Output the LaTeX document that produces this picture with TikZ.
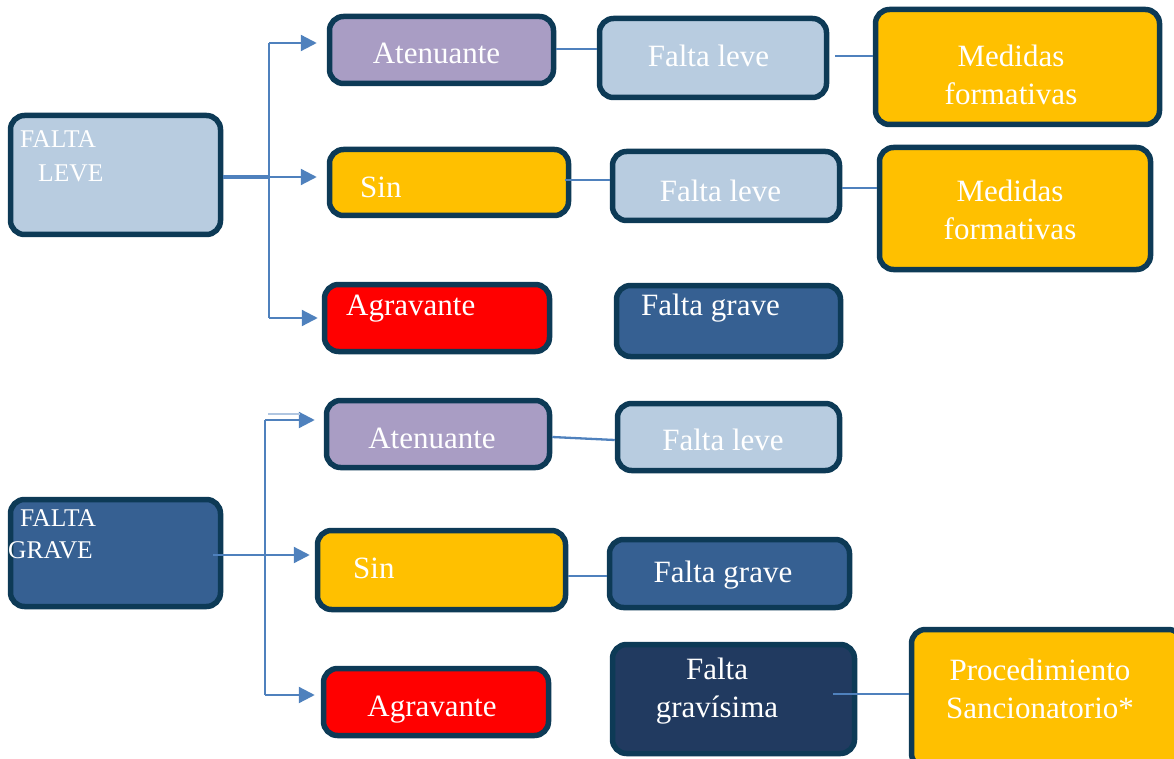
\documentclass[tikz,border=0pt]{standalone}
\usepackage{fontspec}
\setmainfont{Liberation Serif}
\usetikzlibrary{arrows.meta}
\definecolor{bord}{RGB}{13,58,86}
\definecolor{lblue}{RGB}{184,204,224}
\definecolor{lav}{RGB}{169,157,196}
\definecolor{gold}{RGB}{255,192,0}
\definecolor{redf}{RGB}{255,0,0}
\definecolor{mblue}{RGB}{54,96,146}
\definecolor{navy}{RGB}{33,58,96}
\definecolor{conn}{RGB}{79,129,189}
\begin{document}
\begin{tikzpicture}[x=1pt,y=-1pt,
  box/.style={draw=bord, line width=5.5pt, rounded corners=14pt, inner sep=0pt},
  txt/.style={text=white, font=\fontsize{31}{38}\selectfont, inner sep=0pt, align=center},
  smalltxt/.style={text=white, font=\fontsize{25.5}{30}\selectfont, inner sep=0pt},
  link/.style={draw=conn, line width=2.3pt},
  arr/.style={link, -{Triangle[length=16pt,width=16pt]}}]
\useasboundingbox (0,0) rectangle (1174,759);
% boxes
\node[box, fill=lblue, minimum width=210pt, minimum height=119pt] (fleve) at (115.5,175) {};
\node[box, fill=lav, minimum width=224pt, minimum height=67pt] (at1) at (441.5,50) {};
\node[box, fill=lblue, minimum width=227pt, minimum height=79pt] (fl1) at (713,58) {};
\node[box, fill=gold, minimum width=284pt, minimum height=115pt] (mf1) at (1017.5,67) {};
\node[box, fill=gold, minimum width=239pt, minimum height=66pt] (sin1) at (449,182.5) {};
\node[box, fill=lblue, minimum width=227pt, minimum height=69pt] (fl2) at (726,186) {};
\node[box, fill=gold, minimum width=271pt, minimum height=122pt] (mf2) at (1015,208.5) {};
\node[box, fill=redf, minimum width=225pt, minimum height=67pt] (ag1) at (437,318) {};
\node[box, fill=mblue, minimum width=224pt, minimum height=71pt] (fg1) at (728.5,321) {};
\node[box, fill=lav, minimum width=223pt, minimum height=67pt] (at2) at (438,434) {};
\node[box, fill=lblue, minimum width=222pt, minimum height=67pt] (fl3) at (728.5,437) {};
\node[box, fill=mblue, minimum width=210pt, minimum height=107pt] (fgrave) at (115.5,553) {};
\node[box, fill=gold, minimum width=248pt, minimum height=79pt] (sin2) at (441.5,570) {};
\node[box, fill=mblue, minimum width=240pt, minimum height=68pt] (fg2) at (729.5,573.5) {};
\node[box, fill=redf, minimum width=225pt, minimum height=67pt] (ag2) at (436,702) {};
\node[box, fill=navy, minimum width=242pt, minimum height=109pt] (fgv) at (733.5,699) {};
\node[box, fill=gold, minimum width=271pt, minimum height=138pt] (proc) at (1047,698.5) {};
% texts
\node[smalltxt, anchor=base west] (t1a) at (20,148) {FALTA};
\node[smalltxt, anchor=base west] (t1b) at (38,182) {LEVE};
\node[txt, anchor=base] (tat1) at (436.5,64) {Atenuante};
\node[txt, anchor=base] (tfl1) at (708.5,67) {Falta leve};
\node[txt] (tmf1) at (1011,74.5) {Medidas\\formativas};
\node[txt, anchor=base west] (tsin1) at (360,198) {Sin};
\node[txt, anchor=base] (tfl2) at (720.5,202) {Falta leve};
\node[txt] (tmf2) at (1010,210) {Medidas\\formativas};
\node[txt, anchor=base west] (tag1) at (346,315) {Agravante};
\node[txt, anchor=base west] (tfg1) at (641,315) {Falta grave};
\node[txt, anchor=base] (tat2) at (432,448) {Atenuante};
\node[txt, anchor=base] (tfl3) at (723,450) {Falta leve};
\node[smalltxt, anchor=base west] (t2a) at (20,526) {FALTA};
\node[smalltxt, anchor=base west] (t2b) at (8,558) {GRAVE};
\node[txt, anchor=base west] (tsin2) at (353,578) {Sin};
\node[txt, anchor=base] (tfg2) at (723,582) {Falta grave};
\node[txt, anchor=base] (tag2) at (432,716) {Agravante};
\node[txt] (tfgv) at (717,691) {Falta\\gravísima};
\node[txt] (tproc) at (1040,689) {Procedimiento\\Sancionatorio*};
% junction coordinates
\coordinate (j1) at (269,177);
\coordinate (j1t) at (269,43);
\coordinate (j1b) at (269,318);
\coordinate (j2) at (265,555);
\coordinate (j2t) at (265,420);
\coordinate (j2b) at (265,695);
\coordinate (y49) at (0,49);
\coordinate (y56) at (0,56);
\coordinate (y180) at (0,180);
\coordinate (y188) at (0,188);
\coordinate (y437) at (0,437);
\coordinate (y440) at (0,440);
\coordinate (y576) at (0,576);
\coordinate (y694) at (0,694);
% top tree
\draw[link, line width=4pt] (fleve.east |- j1) -- (j1);
\draw[link, line width=2.5pt] (j1t) -- (j1b);
\draw[arr, shorten >=10pt] (j1t) -- (at1.west |- j1t);
\draw[arr, shorten >=10pt] (j1) -- (sin1.west |- j1);
\draw[arr, shorten >=4pt] (j1b) -- (ag1.west |- j1b);
% bottom tree
\draw[link, line width=2.5pt] (j2t) -- (j2b);
\draw[arr, shorten >=5pt, shorten <=-10pt] (fgrave.east |- j2) -- (sin2.west |- j2);
\draw[arr, shorten >=9pt] (j2t) -- (at2.west |- j2t);
\draw[arr, shorten >=6pt] (j2b) -- (ag2.west |- j2b);
\coordinate (f1) at (268,414);
\coordinate (f2) at (300,414);
\draw[draw=conn!45, line width=1.5pt] (f1) -- (f2);
% plain links
\draw[link] (at1.east |- y49) -- (fl1.west |- y49);
\draw[link, shorten <=6pt] (fl1.east |- y56) -- (mf1.west |- y56);
\draw[link, shorten <=-6pt] (sin1.east |- y180) -- (fl2.west |- y180);
\draw[link] (fl2.east |- y188) -- (mf2.west |- y188);
\draw[link] (at2.east |- y437) -- (fl3.west |- y440);
\draw[link] (sin2.east |- y576) -- (fg2.west |- y576);
\draw[link, shorten <=-24pt] (fgv.east |- y694) -- (proc.west |- y694);
\end{tikzpicture}
\end{document}
